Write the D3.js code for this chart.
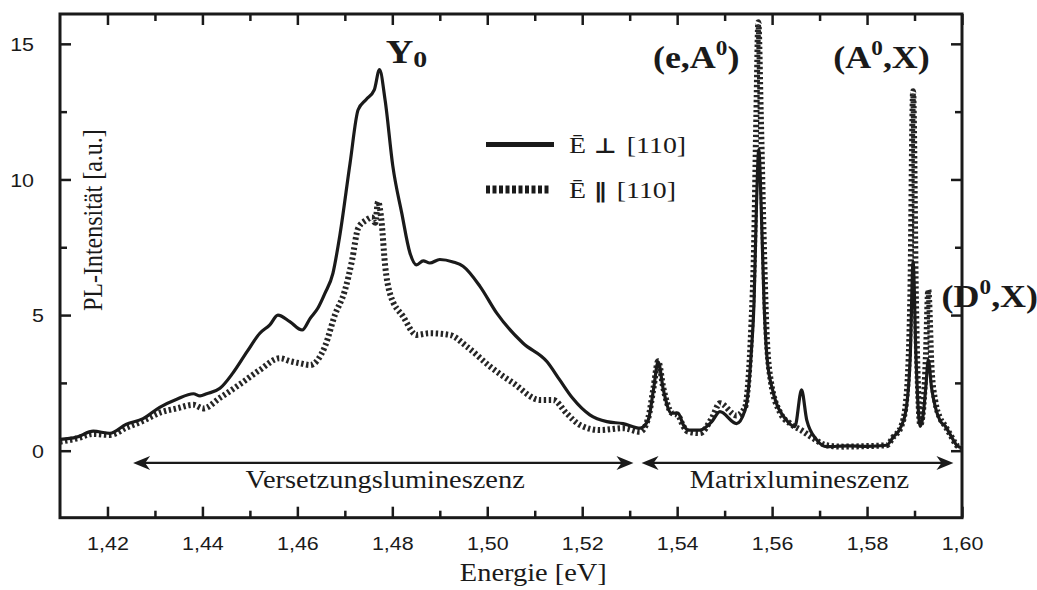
<html>
<head>
<script src="https://cdn.jsdelivr.net/npm/d3@7"></script>
<style>
body { margin: 0; background: #fff; }
</style>
</head>
<body>
<svg width="1037" height="590"></svg>
<script>

// PL-Spektren, Werte (Energie in eV, Intensität in a.u.)
var solidE = [1.410, 1.4135, 1.417, 1.4205, 1.424, 1.4275, 1.431, 1.4346, 1.4381, 1.4395, 1.4409, 1.4437,
  1.4464, 1.4494, 1.4521, 1.4542, 1.4559, 1.4584, 1.461, 1.4627, 1.4643, 1.4658, 1.4675, 1.469, 1.4711,
  1.4728, 1.4745, 1.4762, 1.4773, 1.4785, 1.4801, 1.482, 1.4837, 1.4851, 1.4865, 1.4879, 1.490, 1.4928,
  1.4949, 1.4985, 1.502, 1.5075, 1.5126, 1.5153, 1.518, 1.5216, 1.5252, 1.5286, 1.5322, 1.5339, 1.535,
  1.536, 1.5371, 1.5388, 1.5402, 1.5413, 1.5423, 1.5448, 1.5473, 1.549, 1.5525, 1.5543, 1.555, 1.5556,
  1.5562, 1.5567, 1.5572, 1.5577, 1.5583, 1.5589, 1.5601, 1.563, 1.5648, 1.5662, 1.5673, 1.5694, 1.5715,
  1.5760, 1.5800, 1.5841, 1.5855, 1.5872, 1.5882, 1.5891, 1.5897, 1.5903, 1.5908, 1.5912, 1.5918, 1.5924,
  1.5929, 1.5936, 1.5944, 1.5954, 1.5965, 1.5975, 1.5989, 1.600]
var solidI = [0.42, 0.5, 0.72, 0.64, 0.98, 1.18, 1.6, 1.9, 2.1, 2.02, 2.1, 2.3,
  2.86, 3.65, 4.33, 4.64, 5.0, 4.76, 4.45, 4.88, 5.25, 5.8, 6.55, 8.0, 10.6,
  12.57, 12.95, 13.3, 14.05, 12.9, 10.5, 8.75, 7.3, 6.85, 7.0, 6.92, 7.05, 6.96,
  6.8, 6.05, 5.07, 3.97, 3.28, 2.6, 1.93, 1.32, 1.07, 1.0, 0.83, 1.13, 2.24,
  3.28, 2.24, 1.38, 1.39, 0.95, 0.76, 0.76, 1.07, 1.44, 1.0, 1.5, 2.24, 3.6,
  5.5, 9.0, 11.1, 9.0, 5.5, 3.5, 2.24, 1.13, 0.89, 2.24, 1.13, 0.4, 0.15,
  0.18, 0.16, 0.2, 0.5, 0.9, 1.5, 3.5, 6.97, 3.5, 1.5, 0.9, 1.3, 2.4,
  3.35, 2.3, 1.6, 1.1, 0.9, 0.6, 0.2, 0.1]

var dottedE = [1.410, 1.4135, 1.417, 1.4205, 1.424, 1.4275, 1.431, 1.4346, 1.4381, 1.4402, 1.4437, 1.4479,
  1.4521, 1.4563, 1.4585, 1.4606, 1.4627, 1.4658, 1.4679, 1.470, 1.4715, 1.4728, 1.4745, 1.4757, 1.4764,
  1.477, 1.4777, 1.4785, 1.4795, 1.4823, 1.4851, 1.4879, 1.4921, 1.4957, 1.5006, 1.5055, 1.5111, 1.5139,
  1.5167, 1.5195, 1.5237, 1.5287, 1.5322, 1.5339, 1.535, 1.536, 1.5371, 1.5388, 1.5402, 1.5413, 1.5423,
  1.5448, 1.5473, 1.549, 1.5525, 1.5543, 1.555, 1.5556, 1.5562, 1.5567, 1.5571, 1.5576, 1.5582, 1.5588,
  1.5597, 1.5617, 1.5638, 1.5662, 1.5687, 1.5715, 1.575, 1.580, 1.5841, 1.5855, 1.5872, 1.5882, 1.5891,
  1.5897, 1.5903, 1.5908, 1.5912, 1.5918, 1.5924, 1.5929, 1.5936, 1.5944, 1.5954, 1.5965, 1.5975, 1.5989, 1.600]
var dottedI = [0.33, 0.45, 0.62, 0.58, 0.85, 1.1, 1.4, 1.56, 1.69, 1.56, 1.95, 2.45,
  2.98, 3.41, 3.3, 3.22, 3.16, 3.84, 5.0, 5.9, 7.0, 8.2, 8.5, 8.6, 8.4,
  9.18, 8.5, 6.8, 5.8, 4.94, 4.27, 4.33, 4.27, 3.84, 3.1, 2.49, 1.87, 1.87,
  1.38, 0.95, 0.76, 0.83, 0.7, 1.2, 2.3, 3.3, 2.3, 1.4, 1.3, 0.9, 0.7,
  0.65, 1.2, 1.75, 1.3, 1.6, 2.6, 4.5, 7.5, 12.5, 15.8, 12.5, 8, 4.5,
  2.6, 1.4, 1.0, 0.75, 0.45, 0.2, 0.15, 0.17, 0.2, 0.5, 0.9, 1.8, 5.5,
  13.25, 5.5, 2.0, 0.95, 1.5, 3.5, 5.93, 3.0, 1.8, 1.2, 0.9, 0.6, 0.2, 0.1]

var xTicks = [1.42, 1.44, 1.46, 1.48, 1.50, 1.52, 1.54, 1.56, 1.58, 1.60]
var xMinor = [1.43, 1.45, 1.47, 1.49, 1.51, 1.53, 1.55, 1.57, 1.59]
var yTicks = [0, 5, 10, 15]
var yMinor = [2.5, 7.5, 12.5]

var legendLabels = ['Ē ⊥ [110]', 'Ē ∥ [110]']
var regionLabels = ['Versetzungslumineszenz', 'Matrixlumineszenz']
var regionRanges = [[1.4254, 1.5308], [1.5325, 1.5982]]

var ink = '#1a1a1a'
var SX = 1.16 // das Originalbild ist horizontal etwas gestreckt
var serif = '"Liberation Serif", "Times New Roman", serif'
var sans = '"Liberation Sans", Arial, sans-serif'

var svg = d3.select('svg')

var x = d3.scaleLinear().domain([1.41, 1.60]).range([60, 962])
var y = d3.scaleLinear().domain([-2.47, 16.1]).range([517.7, 14])

var fmt = d3.formatLocale({decimal: ',', thousands: '.', grouping: [3], currency: ['', '']}).format('.2f')

// achsen mit ticks nach innen
function styleAxis(g){
    g.select('.domain').remove()
    g.selectAll('line').attr('stroke', ink).attr('stroke-width', 2.5)
    g.attr('font-family', sans).attr('font-size', 18.5)
    g.selectAll('text').attr('fill', ink)
}

var bottom = svg.append('g').attr('transform', 'translate(0,517.7)')
    .call(d3.axisBottom(x).tickValues(xTicks).tickSize(-11).tickFormat(fmt))
    .call(styleAxis)
bottom.selectAll('text').attr('y', 32).attr('dy', 0).attr('transform', 'scale(' + SX + ',1)')

svg.append('g').attr('transform', 'translate(0,517.7)')
    .call(d3.axisBottom(x).tickValues(xMinor).tickSize(-7).tickFormat(''))
    .call(styleAxis)

svg.append('g').attr('transform', 'translate(0,14)')
    .call(d3.axisTop(x).tickValues(xTicks).tickSize(-11).tickFormat(''))
    .call(styleAxis)
svg.append('g').attr('transform', 'translate(0,14)')
    .call(d3.axisTop(x).tickValues(xMinor).tickSize(-7).tickFormat(''))
    .call(styleAxis)

var left = svg.append('g').attr('transform', 'translate(60,0)')
    .call(d3.axisLeft(y).tickValues(yTicks).tickSize(-11).tickFormat(d3.format('d')))
    .call(styleAxis)
// im original stehen die zweistelligen zahlen weiter links
left.selectAll('text')
    .attr('x', function(d){ return (d >= 10 ? -26 : -16) / SX })
    .attr('dy', '0.36em')
    .attr('transform', 'scale(' + SX + ',1)')

svg.append('g').attr('transform', 'translate(60,0)')
    .call(d3.axisLeft(y).tickValues(yMinor).tickSize(-7).tickFormat(''))
    .call(styleAxis)
svg.append('g').attr('transform', 'translate(962,0)')
    .call(d3.axisRight(y).tickValues(yTicks).tickSize(-11).tickFormat(''))
    .call(styleAxis)
svg.append('g').attr('transform', 'translate(962,0)')
    .call(d3.axisRight(y).tickValues(yMinor).tickSize(-7).tickFormat(''))
    .call(styleAxis)

// rahmen
svg.append('rect')
    .attr('x', 60).attr('y', 14)
    .attr('width', 902).attr('height', 503.7)
    .attr('fill', 'none').attr('stroke', ink).attr('stroke-width', 3)

// kurven
var line = d3.line()
    .x(function(d){ return x(d[0]) })
    .y(function(d){ return y(d[1]) })
    .curve(d3.curveMonotoneX)

svg.append('path')
    .datum(d3.zip(dottedE, dottedI))
    .attr('d', line)
    .attr('fill', 'none')
    .attr('stroke', '#262626')
    .attr('stroke-width', 6)
    .attr('stroke-dasharray', '2.4,2.6')

svg.append('path')
    .datum(d3.zip(solidE, solidI))
    .attr('d', line)
    .attr('fill', 'none')
    .attr('stroke', ink)
    .attr('stroke-width', 3.2)
    .attr('stroke-linejoin', 'round')

// pfeile für die bereiche
var arrowY = y(-0.45)
function head(tip, dir){
    // dir = +1 zeigt nach rechts, -1 nach links
    return 'M' + tip + ',' + arrowY +
        'L' + (tip - dir * 17) + ',' + (arrowY - 7) +
        'L' + (tip - dir * 12) + ',' + arrowY +
        'L' + (tip - dir * 17) + ',' + (arrowY + 7) + 'Z'
}
regionRanges.forEach(function(r, i){
    svg.append('line')
        .attr('x1', x(r[0]) + 5).attr('x2', x(r[1]) - 5)
        .attr('y1', arrowY).attr('y2', arrowY)
        .attr('stroke', ink).attr('stroke-width', 2.2)
    svg.append('path').attr('d', head(x(r[0]), -1)).attr('fill', ink)
    svg.append('path').attr('d', head(x(r[1]), 1)).attr('fill', ink)
    svg.append('text')
        .attr('transform', 'translate(' + x((r[0] + r[1]) / 2 + 0.0004) + ',' + y(-1.38) + ') scale(' + SX + ',1)')
        .attr('text-anchor', 'middle')
        .attr('font-family', serif).attr('font-size', 24.5)
        .attr('fill', ink)
        .text(regionLabels[i])
})

// achsentitel
svg.append('text')
    .attr('transform', 'translate(' + x(1.5097) + ',581) scale(' + SX + ',1)')
    .attr('text-anchor', 'middle')
    .attr('font-family', serif).attr('font-size', 24.5)
    .attr('fill', ink)
    .text('Energie [eV]')

svg.append('text')
    .attr('transform', 'translate(102,' + y(8.5) + ') rotate(-90) scale(1,' + SX + ')')
    .attr('text-anchor', 'middle')
    .attr('font-family', serif).attr('font-size', 24)
    .attr('fill', ink)
    .text('PL-Intensität [a.u.]')

// legende
legendLabels.forEach(function(lab, i){
    var ly = 144.5 + i * 45
    svg.append('line')
        .attr('x1', 486).attr('x2', i == 0 ? 554 : 551)
        .attr('y1', ly).attr('y2', ly)
        .attr('stroke', ink)
        .attr('stroke-width', i == 0 ? 5 : 8)
        .attr('stroke-dasharray', i == 0 ? null : '4,2.5')
    var parts = lab.split(' ')
    var t = svg.append('text')
        .attr('transform', 'translate(569,' + (ly + 8.5) + ') scale(' + SX + ',1)')
        .attr('font-family', serif).attr('font-size', 24)
        .attr('fill', ink)
    t.append('tspan').text(parts[0])
    t.append('tspan').attr('dx', 7)
        .attr('font-family', '"DejaVu Sans", sans-serif').attr('font-weight', 'bold').attr('font-size', 21)
        .text(parts[1])
    t.append('tspan').attr('dx', 9).text(parts[2])
})

// peak-bezeichnungen
function peakLabel(px, py, a, sup, b){
    var t = svg.append('text')
        .attr('transform', 'translate(' + px + ',' + py + ') scale(' + SX + ',1)')
        .attr('font-family', serif).attr('font-weight', 'bold').attr('font-size', 31)
        .attr('fill', ink)
    t.append('tspan').text(a)
    t.append('tspan').attr('dy', -13).attr('font-size', 20).text(sup)
    t.append('tspan').attr('dy', 13).text(b)
}
peakLabel(x(1.5349), y(14.11), '(e,A', '0', ')')
peakLabel(x(1.5729), y(14.11), '(A', '0', ',X)')
peakLabel(x(1.5957), y(5.31), '(D', '0', ',X)')

var y0 = svg.append('text')
    .attr('transform', 'translate(' + x(1.4786) + ',' + y(14.3) + ') scale(' + SX + ',1)')
    .attr('font-family', serif).attr('font-weight', 'bold').attr('font-size', 33)
    .attr('fill', ink)
y0.append('tspan').text('Y')
y0.append('tspan').attr('dy', 4).attr('font-size', 24).text('0')

</script>
</body>
</html>
